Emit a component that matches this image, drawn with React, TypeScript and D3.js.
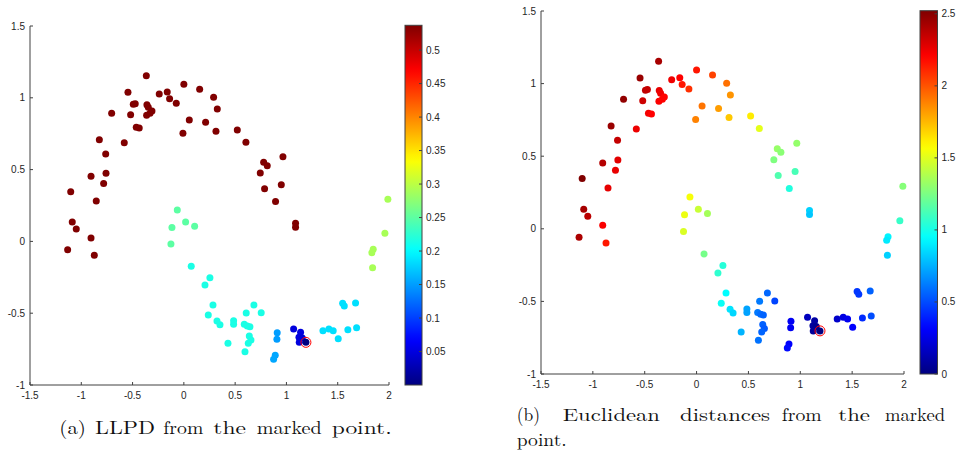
import React from 'react';
import * as d3 from 'd3';

// ---- data ----
const pointX = [
  -1.103, -0.854, -0.905, -0.782, -0.759, -0.762, -0.824, -0.704, -0.581, -0.545,
  -0.519, -0.493, -0.474, -0.464, -0.435, -0.366, -0.360, -0.347, -0.363, -0.330,
  -0.311, -0.240, -0.162, -0.139, -0.074, 0.000, -0.009, 0.053, 0.154, 0.212,
  0.290, 0.326, 0.313, 0.521, 0.605, 0.966, 0.778, 0.813, 0.745, 0.950,
  0.787, 0.894, 1.089, 1.089, -1.088, -1.049, -0.905, -1.133, -0.873,
  -0.064, -0.116, 0.017, 0.105, -0.126,
  0.072, 0.254, 0.206, 0.284, 0.238, 0.323, 0.352, 0.430,
  0.683, 0.608, 0.754, 0.485, 0.485, 0.589, 0.618, 0.644, 0.638, 0.654, 0.628, 0.596,
  0.910, 0.907, 0.891, 0.875,
  1.070, 1.138, 1.122, 1.154, 1.125, 1.190,
  1.356, 1.414, 1.456, 1.505, 1.599, 1.684, 1.548, 1.564, 1.674,
  1.989, 1.960, 1.846, 1.833, 1.840,
];
const pointY = [
  0.346, 0.281, 0.453, 0.404, 0.474, 0.609, 0.708, 0.892, 0.687, 1.038,
  0.882, 0.955, 0.959, 0.795, 0.790, 1.154, 0.952, 0.934, 0.878, 0.892,
  0.908, 1.026, 1.040, 0.994, 0.962, 1.094, 0.753, 0.845, 1.059, 0.829,
  1.003, 0.922, 0.767, 0.776, 0.690, 0.590, 0.551, 0.527, 0.476, 0.395,
  0.367, 0.277, 0.126, 0.098, 0.135, 0.086, 0.024, -0.058, -0.097,
  0.219, 0.096, 0.135, 0.105, -0.018,
  -0.173, -0.253, -0.304, -0.443, -0.513, -0.554, -0.580, -0.710,
  -0.443, -0.499, -0.497, -0.552, -0.577, -0.577, -0.589, -0.594, -0.659, -0.687, -0.710, -0.768,
  -0.636, -0.682, -0.793, -0.821,
  -0.610, -0.633, -0.668, -0.673, -0.703, -0.703,
  -0.622, -0.610, -0.622, -0.678, -0.615, -0.601, -0.431, -0.450, -0.429,
  0.293, 0.056, -0.055, -0.079, -0.183,
];
const llpdValues = [
  0.537, 0.537, 0.537, 0.537, 0.537, 0.537, 0.537, 0.537, 0.537, 0.537,
  0.537, 0.537, 0.537, 0.537, 0.537, 0.537, 0.537, 0.537, 0.537, 0.537,
  0.537, 0.537, 0.537, 0.537, 0.537, 0.537, 0.537, 0.537, 0.537, 0.537,
  0.537, 0.537, 0.537, 0.537, 0.537, 0.537, 0.537, 0.537, 0.537, 0.537,
  0.537, 0.537, 0.537, 0.537, 0.537, 0.537, 0.537, 0.537, 0.537,
  0.25, 0.25, 0.25, 0.25, 0.25,
  0.215, 0.215, 0.215, 0.215, 0.215, 0.215, 0.215, 0.215,
  0.215, 0.215, 0.215, 0.215, 0.215, 0.215, 0.215, 0.215, 0.215, 0.215, 0.215, 0.215,
  0.15, 0.15, 0.155, 0.155,
  0.05, 0.05, 0.05, 0.045, 0.05, 0.0,
  0.185, 0.185, 0.185, 0.185, 0.185, 0.185, 0.185, 0.185, 0.185,
  0.29, 0.29, 0.29, 0.29, 0.29,
];
const markedIndex = 83;
const llpdMin = 0;
const llpdMax = 0.537;

const xTicks = [-1.5, -1, -0.5, 0, 0.5, 1, 1.5, 2];
const yTicks = [-1, -0.5, 0, 0.5, 1, 1.5];
const llpdTicks = [0.05, 0.1, 0.15, 0.2, 0.25, 0.3, 0.35, 0.4, 0.45, 0.5];
const euclidTicks = [0, 0.5, 1, 1.5, 2, 2.5];

const captionAWords = ['(a)', 'LLPD', 'from', 'the', 'marked', 'point.'];
const captionBLine1 = ['(b)', 'Euclidean', 'distances', 'from', 'the', 'marked'];
const captionBLine2 = ['point.'];

// Euclidean distance of every point from the marked point
const euclidValues = pointX.map((x, i) =>
  Math.hypot(x - pointX[markedIndex], pointY[i] - pointY[markedIndex])
);

// MATLAB jet colormap (continuous)
function jet(t: number): string {
  const c = (v: number) => Math.max(0, Math.min(1, v));
  const r = c(Math.min(4 * t - 1.5, -4 * t + 4.5));
  const g = c(Math.min(4 * t - 0.5, -4 * t + 3.5));
  const b = c(Math.min(4 * t + 0.5, -4 * t + 2.5));
  return d3.rgb(r * 255, g * 255, b * 255).formatHex();
}

const FONT = '"Liberation Sans", Arial, sans-serif';
const TXT = '#262626';
const AX = '#404040';

type PanelProps = {
  id: string;
  x0: number; x1: number; yTop: number; yBot: number;
  cbLeft: number; cbRight: number; cbTop: number; cbBot: number;
  values: number[]; vmin: number; vmax: number; cbTicks: number[];
};

function Panel(p: PanelProps) {
  const xs = d3.scaleLinear().domain([-1.5, 2]).range([p.x0, p.x1]);
  const ys = d3.scaleLinear().domain([-1, 1.5]).range([p.yBot, p.yTop]);
  const cs = d3.scaleLinear().domain([p.vmin, p.vmax]).range([0, 1]).clamp(true);
  const cbs = d3.scaleLinear().domain([p.vmin, p.vmax]).range([p.cbBot, p.cbTop]);
  const stops = d3.range(0, 1.0001, 0.02);
  const tl = 3;
  return (
    <g>
      <defs>
        <linearGradient id={p.id} x1="0" y1="1" x2="0" y2="0">
          {stops.map((s) => (
            <stop key={s} offset={s} stopColor={jet(s)} />
          ))}
        </linearGradient>
      </defs>
      {/* points */}
      {pointX.map((x, i) => (
        <circle key={i} cx={xs(x)} cy={ys(pointY[i])} r={3.5} fill={jet(cs(p.values[i]))} />
      ))}
      <circle cx={xs(pointX[markedIndex])} cy={ys(pointY[markedIndex])} r={5} fill="none" stroke="#ff0000" strokeWidth={1} />
      {/* axes */}
      <line x1={p.x0} x2={p.x1} y1={p.yBot} y2={p.yBot} stroke={AX} strokeWidth={1} />
      <line x1={p.x0} x2={p.x0} y1={p.yTop} y2={p.yBot} stroke={AX} strokeWidth={1} />
      {xTicks.map((t) => (
        <g key={'x' + t}>
          <line x1={xs(t)} x2={xs(t)} y1={p.yBot} y2={p.yBot - tl} stroke={AX} />
          <text x={xs(t)} y={p.yBot + 14} textAnchor="middle" fontFamily={FONT} fontSize={10} fill={TXT}>{String(t)}</text>
        </g>
      ))}
      {yTicks.map((t) => (
        <g key={'y' + t}>
          <line x1={p.x0} x2={p.x0 + tl} y1={ys(t)} y2={ys(t)} stroke={AX} />
          <text x={p.x0 - 5} y={ys(t) + 3.5} textAnchor="end" fontFamily={FONT} fontSize={10} fill={TXT}>{String(t)}</text>
        </g>
      ))}
      {/* colorbar */}
      <rect x={p.cbLeft} y={p.cbTop} width={p.cbRight - p.cbLeft} height={p.cbBot - p.cbTop} fill={`url(#${p.id})`} stroke={AX} strokeWidth={1} />
      {p.cbTicks.map((t) => (
        <g key={'c' + t}>
          <line x1={p.cbRight - tl} x2={p.cbRight} y1={cbs(t)} y2={cbs(t)} stroke={AX} />
          <text x={p.cbRight + 4} y={cbs(t) + 3.5} fontFamily={FONT} fontSize={10} fill={TXT}>{String(t)}</text>
        </g>
      ))}
    </g>
  );
}

const SERIF = '"Latin Modern Roman", "Liberation Serif", "DejaVu Serif", serif';

function Words({ words, starts, ends, y }: { words: string[]; starts: number[]; ends: number[]; y: number }) {
  return (
    <g>
      {words.map((w, i) => (
        <text key={i} x={starts[i]} y={y} fontFamily={SERIF} fontSize={18} fill="#111"
          textLength={ends[i] - starts[i]} lengthAdjust="spacingAndGlyphs">{w}</text>
      ))}
    </g>
  );
}

export default function App() {
  const llpdMaxVal = llpdMax;
  const euclidMax = d3.max(euclidValues) as number;
  return (
    <svg width={956} height={452} style={{ position: 'absolute', left: 0, top: 0, background: '#fff' }}>
      <rect width={956} height={452} fill="#fff" />
      <Panel id="gradA" x0={30} x1={389} yTop={26} yBot={385}
        cbLeft={405} cbRight={422} cbTop={25.3} cbBot={385}
        values={llpdValues} vmin={llpdMin} vmax={llpdMaxVal} cbTicks={llpdTicks} />
      <Panel id="gradB" x0={541} x1={904} yTop={11} yBot={374}
        cbLeft={920} cbRight={937.5} cbTop={10.7} cbBot={374}
        values={euclidValues} vmin={0} vmax={euclidMax} cbTicks={euclidTicks} />
      <Words words={captionAWords} starts={[59.3, 95, 163.3, 213.3, 256.7, 331.7]} ends={[86, 155, 203.3, 246, 321.7, 391.7]} y={434} />
      <Words words={captionBLine1} starts={[516.7, 562.7, 680, 781.7, 838.3, 885]} ends={[540, 660, 770, 821.7, 870, 945]} y={421} />
      <Words words={captionBLine2} starts={[516.7]} ends={[566.7]} y={446} />
    </svg>
  );
}
